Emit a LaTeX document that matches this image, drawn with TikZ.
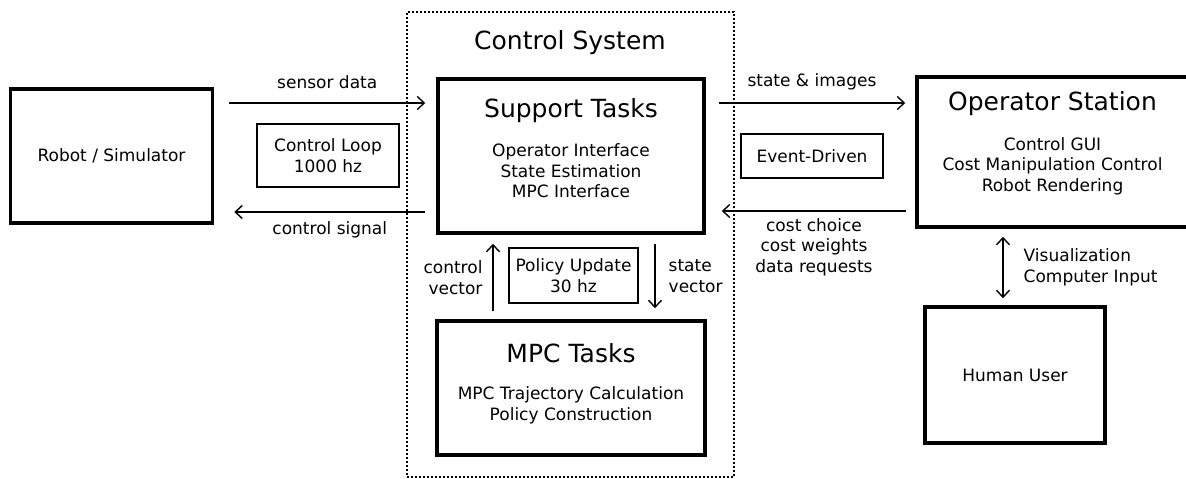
\documentclass[tikz,border=0pt]{standalone}
\usepackage{fontspec}
\setmainfont{DejaVu Sans}
\usetikzlibrary{arrows.meta,calc}
\begin{document}
\begin{tikzpicture}[x=1pt,y=-1pt,
  bigbox/.style={draw,line width=3.5pt,inner sep=0},
  smallbox/.style={draw,line width=1.3pt,inner sep=0,align=center,font=\fontsize{17}{21}\selectfont},
  lbl/.style={font=\fontsize{17}{20.5}\selectfont,align=center,inner sep=0},
  ttl/.style={font=\fontsize{25}{30}\selectfont,inner sep=0},
  conn/.style={line width=1.4pt,-{Straight Barb[length=7pt,width=13pt]}},
  conn2/.style={line width=1.4pt,{Straight Barb[length=7pt,width=13pt]}-{Straight Barb[length=7pt,width=13pt]}},
]
\useasboundingbox (0,0) rectangle (1186,479);

% dotted control system frame
\node[draw,line width=2pt,dash pattern=on 2pt off 2pt,minimum width=327pt,minimum height=465pt,inner sep=0] (frame) at (570.5,244.5) {};
\node[ttl] (cstitle) at (570,43) {Control System};

% main boxes
\node[bigbox,minimum width=202pt,minimum height=134pt,font=\fontsize{17}{21}\selectfont] (robot) at (111.5,156) {Robot / Simulator};
\node[bigbox,minimum width=266pt,minimum height=154pt] (support) at (571,156) {};
\node[bigbox,minimum width=268pt,minimum height=134pt] (mpc) at (571,388) {};
\node[bigbox,minimum width=271pt,minimum height=150pt] (operator) at (1052.5,152) {};
\node[bigbox,minimum width=180pt,minimum height=136pt,font=\fontsize{17}{21}\selectfont] (human) at (1015,375) {Human User};

% box texts
\node[ttl] (suptitle) at ($(support.north)+(0,33)$) {Support Tasks};
\node[lbl] (suplines) at ($(support.center)+(0,15)$) {Operator Interface\\State Estimation\\MPC Interface};
\node[ttl] (mpctitle) at ($(mpc.north)+(0,34)$) {MPC Tasks};
\node[lbl] (mpclines) at ($(mpc.center)+(0,17.5)$) {MPC Trajectory Calculation\\Policy Construction};
\node[ttl] (optitle) at ($(operator.north)+(0,28)$) {Operator Station};
\node[lbl] (oplines) at ($(operator.center)+(0,14)$) {Control GUI\\Cost Manipulation Control\\Robot Rendering};

% small boxes
\node[smallbox,minimum width=142pt,minimum height=63pt] (loop) at (328,155.5) {Control Loop\\1000 hz};
\node[smallbox,minimum width=129pt,minimum height=55pt] (policy) at (573.5,275.5) {Policy Update\\30 hz};
\node[smallbox,minimum width=142pt,minimum height=44pt] (event) at (812,156) {Event-Driven};

% connectors
\draw[conn] ($(robot.east)+(15,-53)$) -- ($(support.west)+(-11,-53)$)
  node[lbl,midway,yshift=21pt] (sensorlbl) {sensor data};
\draw[conn] ($(support.west)+(-11,56)$) -- ($(robot.east)+(20,56)$)
  node[lbl,midway,yshift=-18pt] (ctrllbl) {control signal};
\draw[conn] ($(support.east)+(13,-53)$) -- ($(operator.west)+(-10,-49)$)
  node[lbl,midway,yshift=21pt] (statelbl) {state \& images};
\draw[conn] ($(operator.west)+(-9,59)$) -- ($(support.east)+(16,55)$)
  node[lbl,midway,yshift=-36pt] (costlbl) {cost choice\\cost weights\\data requests};
\draw[conn] ($(mpc.north)+(-78,-8)$) -- ($(support.south)+(-78,9)$)
  node[lbl,midway,xshift=-40pt,align=right] (cvlbl) {control\\vector};
\draw[conn] ($(support.south)+(84,9)$) -- ($(mpc.north)+(84,-11)$)
  node[lbl,midway,anchor=west,xshift=13pt,align=left] (svlbl) {state\\vector};
\draw[conn2] ($(operator.south)+(-49.5,8)$) -- ($(human.north)+(-12,-7)$)
  node[lbl,midway,anchor=west,xshift=20pt,align=left] (vislbl) {Visualization\\Computer Input};
\end{tikzpicture}
\end{document}
